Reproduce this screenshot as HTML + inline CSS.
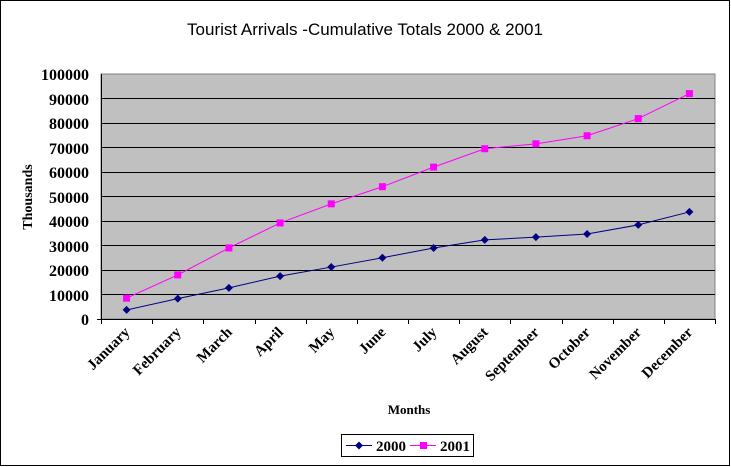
<!DOCTYPE html>
<html><head><meta charset="utf-8"><style>body{margin:0;background:#fff}svg{display:block}</style></head><body>
<svg width="731" height="467" xmlns="http://www.w3.org/2000/svg">
<rect x="0.5" y="0.5" width="729" height="465" fill="#fff" stroke="#000"/>
<text x="365" y="35" text-anchor="middle" font-family="Liberation Sans, sans-serif" font-size="17">Tourist Arrivals -Cumulative Totals 2000 &amp; 2001</text>
<rect x="101" y="74" width="614" height="245" fill="#c0c0c0" stroke="#808080"/>
<g stroke="#000" stroke-width="1">
<line x1="101" y1="98.5" x2="715" y2="98.5"/><line x1="101" y1="123.5" x2="715" y2="123.5"/>
<line x1="101" y1="147.5" x2="715" y2="147.5"/><line x1="101" y1="172.5" x2="715" y2="172.5"/>
<line x1="101" y1="196.5" x2="715" y2="196.5"/><line x1="101" y1="221.5" x2="715" y2="221.5"/>
<line x1="101" y1="245.5" x2="715" y2="245.5"/><line x1="101" y1="270.5" x2="715" y2="270.5"/>
<line x1="101" y1="294.5" x2="715" y2="294.5"/>
<line x1="101.5" y1="74" x2="101.5" y2="320"/><line x1="97" y1="319.5" x2="715" y2="319.5"/>
</g>
<g font-family="Liberation Serif, serif" font-weight="bold" font-size="16" text-anchor="end">
<text x="89" y="80">100000</text><text x="89" y="105">90000</text><text x="89" y="129">80000</text>
<text x="89" y="154">70000</text><text x="89" y="178">60000</text><text x="89" y="203">50000</text>
<text x="89" y="227">40000</text><text x="89" y="252">30000</text><text x="89" y="276">20000</text>
<text x="89" y="301">10000</text><text x="89" y="325">0</text>
</g>
<text transform="translate(32,197) rotate(-90)" text-anchor="middle" font-family="Liberation Serif, serif" font-weight="bold" font-size="14">Thousands</text>
<text x="409" y="414" text-anchor="middle" font-family="Liberation Serif, serif" font-weight="bold" font-size="13">Months</text>
<g id="g"></g>
<rect x="341.5" y="434.5" width="132" height="22" fill="#fff" stroke="#000"/>
<line x1="346" y1="445.5" x2="372" y2="445.5" stroke="#000080"/>
<path d="M359 441.5 L363 445.5 L359 449.5 L355 445.5Z" fill="#000080"/>
<text x="376" y="451" font-family="Liberation Serif, serif" font-weight="bold" font-size="15">2000</text>
<line x1="410" y1="445.5" x2="436" y2="445.5" stroke="#ff00ff"/>
<rect x="420" y="442" width="7" height="7" fill="#ff00ff"/>
<text x="440" y="451" font-family="Liberation Serif, serif" font-weight="bold" font-size="15">2001</text>
</svg>
<script>
var g=document.getElementById("g");
var m=["January","February","March","April","May","June","July","August","September","October","November","December"];
var a=[3700,8300,12700,17500,21200,25000,29000,32300,33400,34700,38400,43700];
var b=[8500,18000,29000,39200,47000,54000,62000,69500,71500,74800,81800,92000];
var w=614/12;function X(i){return 101+w/2+i*w}function Y(v){return 319-v*245/100000}
var s="";
for(var i=0;i<=12;i++){var x=Math.round(101+i*w)+0.5;s+='<line x1="'+x+'" y1="319" x2="'+x+'" y2="324" stroke="#000"/>';}
for(i=0;i<12;i++){var cx=X(i)+4;s+='<text transform="translate('+cx+',333) rotate(-45)" text-anchor="end" font-family="Liberation Serif, serif" font-weight="bold" font-size="15">'+m[i]+'</text>';}
var pa=a.map(function(v,i){return X(i)+","+Y(v)}).join(" "),pb=b.map(function(v,i){return X(i)+","+Y(v)}).join(" ");
s+='<polyline points="'+pa+'" fill="none" stroke="#000080"/><polyline points="'+pb+'" fill="none" stroke="#ff00ff"/>';
for(i=0;i<12;i++){var x=X(i),y=Y(a[i]);s+='<path d="M'+x+' '+(y-4)+' L'+(x+4)+' '+y+' L'+x+' '+(y+4)+' L'+(x-4)+' '+y+'Z" fill="#000080"/>';
y=Y(b[i]);s+='<rect x="'+(x-3.5)+'" y="'+(y-3.5)+'" width="7" height="7" fill="#ff00ff"/>';}
g.innerHTML=s;
</script>
</body></html>
